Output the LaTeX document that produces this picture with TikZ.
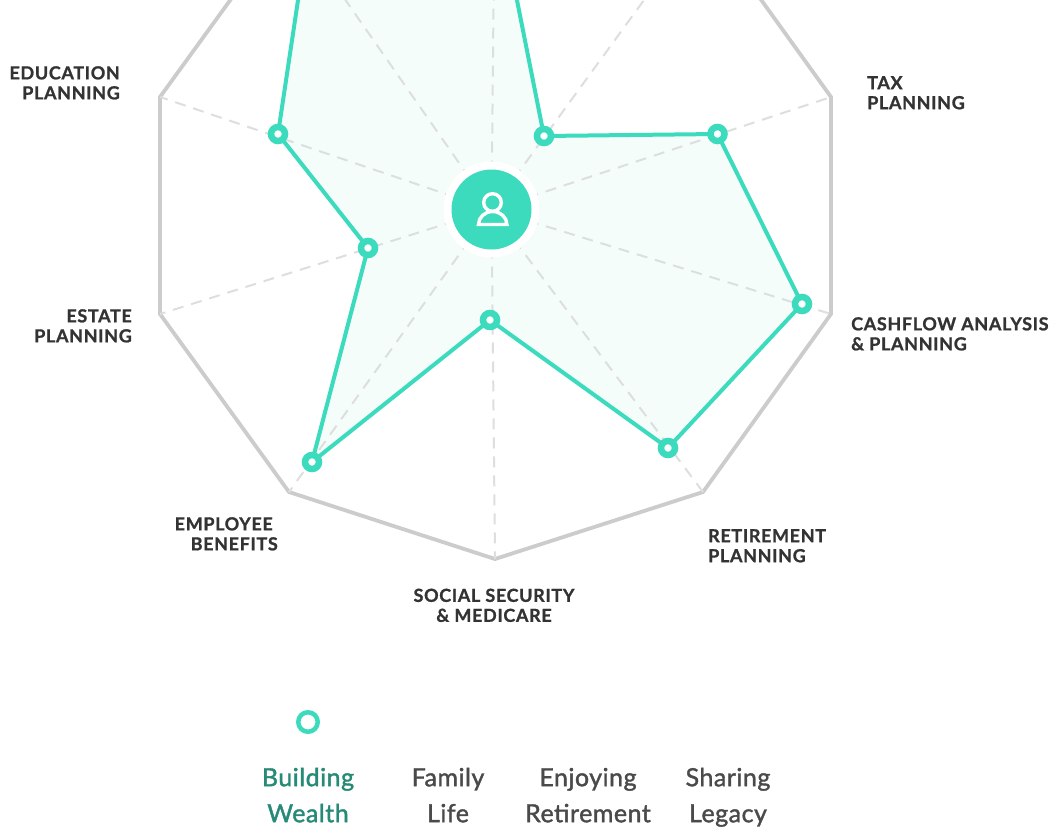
\documentclass[tikz,border=0pt]{standalone}
\usepackage{fontspec}
\setmainfont{Lato}
\newfontfamily\labelfont[BoldFont=*,FakeBold=1,LetterSpace=3.6]{Lato Bold}
\newfontfamily\legendfont[FakeBold=1.5,LetterSpace=2]{Lato}
\definecolor{teal}{HTML}{3DDBBD}
\definecolor{tealfill}{HTML}{F5FDFB}
\definecolor{rimgray}{HTML}{CCCCCC}
\definecolor{spokegray}{HTML}{DDDFDE}
\definecolor{labeldark}{HTML}{333333}
\definecolor{legendgray}{HTML}{4A4A4A}
\definecolor{legendgreen}{HTML}{268A76}
\tikzset{
  rim/.style={draw=rimgray,line width=3.8pt,line join=miter},
  spoke/.style={draw=spokegray,line width=2pt,dash pattern=on 11pt off 8pt},
  series/.style={draw=teal,line width=4pt,fill=tealfill,line join=round},
  datapt/.style={circle,draw=teal,fill=white,line width=6.5pt,minimum size=14pt,inner sep=0pt},
  axislabel/.style={font=\fontsize{18}{20}\labelfont,text=labeldark,inner sep=0pt},
  legendtext/.style={font=\fontsize{25}{36}\legendfont,text=legendgray,inner sep=0pt,align=center,anchor=center},
}
\begin{document}
\begin{tikzpicture}[x=1pt,y=-1pt]
\useasboundingbox (0,0) rectangle (1055,830);
\clip (0,0) rectangle (1055,830);
% decagon vertices
\coordinate (v0) at (495,-148);
\coordinate (v1) at (703,-81);
\coordinate (v2) at (831,97);
\coordinate (v3) at (831,314);
\coordinate (v4) at (703,492);
\coordinate (v5) at (495,559);
\coordinate (v6) at (289,492);
\coordinate (v7) at (160,314);
\coordinate (v8) at (160,97);
\coordinate (v9) at (289,-81);
\coordinate (c) at (491.5,209.5);
% data points
\coordinate (p0) at (410,-120);
\coordinate (p1) at (505,-60);
\coordinate (p2) at (544,136);
\coordinate (p3) at (717.5,134);
\coordinate (p4) at (802,304);
\coordinate (p5) at (668,448);
\coordinate (p6) at (490,320);
\coordinate (p7) at (312,462);
\coordinate (p8) at (368,248);
\coordinate (p9) at (278,134);
\coordinate (p10) at (307,-60);

\path[fill=white] (0,0) rectangle (1055,830);
\draw[rim] (v0)--(v1)--(v2)--(v3)--(v4)--(v5)--(v6)--(v7)--(v8)--(v9)--cycle;
\draw[series] (p0)--(p1)--(p2)--(p3)--(p4)--(p5)--(p6)--(p7)--(p8)--(p9)--(p10)--cycle;
\foreach \i in {0,...,9} \draw[spoke] (c)--(v\i);
\foreach \i in {2,...,9} \node[datapt] (d\i) at (p\i) {};

% hub
\node[circle,fill=white,minimum size=96pt,inner sep=0pt] (halo) at (c) {};
\node[circle,fill=teal,minimum size=80pt,inner sep=0pt] (hub) at (c) {};
\draw[white,line width=3.4pt] (492.5,202.5) circle (8.8pt);
\draw[white,line width=3.4pt,line join=miter] (478.5,224.5) arc (180:0:14.2pt and 13pt) -- cycle;

% axis labels
\node[axislabel,align=right,anchor=north east] (l8) at (120,66) {EDUCATION\\PLANNING};
\node[axislabel,align=left,anchor=north west] (l2) at (867,76) {TAX\\PLANNING};
\node[axislabel,align=left,anchor=north west] (l3) at (851,317) {CASHFLOW ANALYSIS\\\& PLANNING};
\node[axislabel,align=right,anchor=north east] (l7) at (132,309) {ESTATE\\PLANNING};
\node[axislabel,align=left,anchor=north west] (l4) at (708,529) {RETIREMENT\\PLANNING};
\node[axislabel,align=right,anchor=north east] (l6) at (278,517) {EMPLOYEE\hspace*{5pt}\\BENEFITS};
\node[axislabel,align=center,anchor=north] (l5) at (494,588.5) {SOCIAL SECURITY\\\& MEDICARE};

% legend
\node[circle,draw=teal,fill=white,line width=4.5pt,minimum size=19.5pt,inner sep=0pt] (mark) at (308,722) {};
\node[legendtext,text=legendgreen] (g1) at (308,797) {\strut Building\\\strut Wealth};
\node[legendtext] (g2) at (448,797) {\strut Family\\\strut Life};
\node[legendtext] (g3) at (588,797) {\strut Enjoying\\\strut Retirement};
\node[legendtext] (g4) at (728,797) {\strut Sharing\\\strut Legacy};
\end{tikzpicture}
\end{document}
